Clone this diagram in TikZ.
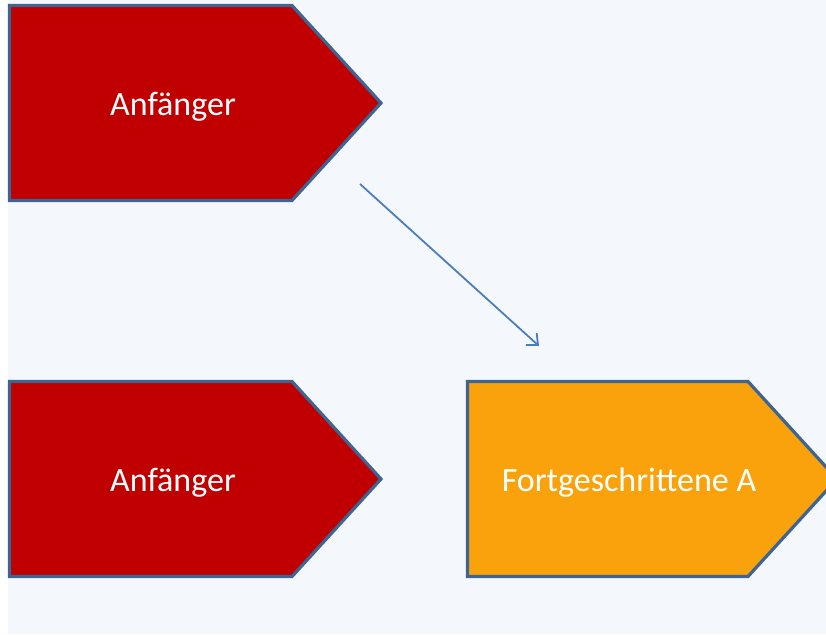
\documentclass[tikz,border=0pt]{standalone}
\usepackage{fontspec}
\setmainfont{Carlito}
\usetikzlibrary{arrows.meta}
\definecolor{bgblue}{HTML}{F4F8FC}
\definecolor{edgeblue}{HTML}{3E6592}
\definecolor{redfill}{HTML}{C00000}
\definecolor{orangefill}{HTML}{F9A20B}
\definecolor{arrowblue}{HTML}{4A7EBB}
\tikzset{
  chevron/.style={draw=edgeblue, line width=3.2pt, line join=miter},
  label/.style={text=white, font=\fontsize{34}{37}\selectfont, anchor=base, inner sep=0pt},
  link/.style={draw=arrowblue, line width=1.8pt, -{Straight Barb[length=9pt,width=16pt,line width=1.8pt]}}
}
\begin{document}
\begin{tikzpicture}[x=1pt,y=-1pt]
\useasboundingbox (0,0) rectangle (826,634);
\clip (0,0) rectangle (826,634);
\fill[white] (0,0) rectangle (826,634);
\fill[bgblue] (8,0) rectangle (826,634);
% shapes
\path[chevron, fill=redfill] (9.5,5.5) -- (292,5.5) -- (381,103) -- (292,200.5) -- (9.5,200.5) -- cycle;
\path[chevron, fill=redfill] (9.5,381.5) -- (292,381.5) -- (381,479) -- (292,576.5) -- (9.5,576.5) -- cycle;
\path[chevron, fill=orangefill] (467.5,381.5) -- (748,381.5) -- (837,479) -- (748,576.5) -- (467.5,576.5) -- cycle;
% labels
\node[label] (a1) at (173,115) {Anfänger};
\node[label] (a2) at (173,491) {Anfänger};
\node[label] (f) at (629,491) {Fortgeschrittene A};
% connector
\coordinate (s) at (360,184);
\coordinate (t) at (539,346);
\draw[link] (s) -- (t);
\end{tikzpicture}
\end{document}
